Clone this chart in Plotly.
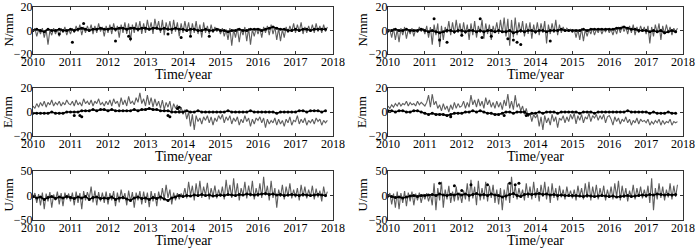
import numpy as np
import plotly.graph_objects as go

# sampling grids (decimal years)
t_gray = np.round(2010.0 + 0.05 * np.arange(158), 2)
t_black = np.round(2010.0 + 0.1 * np.arange(79), 2)

# ---------------- Left column ----------------
left_N_gray = [
    -1, 2, -5, 1, -3, 2, -6, 1, -12, 0, -4, 2, -3, 1, -5, 2, -2, 3, -4, 1,
    -3, 2, -2, 4, -1, 5, -4, 3, -2, 4, -1, 5, -3, 4, -2, 6, -1, 3, -5, 4,
    -2, 5, -3, 6, -1, 4, -6, 5, -2, 7, -3, 6, -9, 5, -2, 7, -1, 8, -3, 6,
    -2, 9, 0, 7, -3, 10, 1, 8, -2, 9, -4, 7, 0, 8, -3, 9, -1, 7, -5, 6,
    -2, 8, -1, 7, -4, 6, -2, 8, -3, 5, -6, 7, -2, 4, -3, 5, -2, 3, -1, 2,
    -3, 2, -5, 1, -8, 2, -13, 1, -6, 2, -10, 1, -4, 3, -9, 2, -12, 1, -5, 2,
    -3, 2, -6, 3, -2, 4, -4, 5, -3, 3, -8, 2, -9, 1, -6, 3, -2, 4, -1, 6,
    -2, 5, -1, 7, -3, 3, -2, 4, -1, 5, -2, 6, -1, 4, -2, 5, -1, 3]
left_N_black = [
    0, 1, 0, -1, 1, 0, 0, 1, 0, 0,
    1, 0, 1, 2, 1, 0, 1, 1, 2, 1,
    1, 2, 1, 2, 2, 1, 2, 2, 1, 2,
    2, 1, 2, 2, 1, 2, 1, 1, 2, 1,
    1, 0, 1, 1, 0, 0, 1, 0, 0, 1,
    0, 0, -1, 0, 0, 1, 0, 0, 1, 1,
    1, 0, 1, 2, 3, 2, 1, 1, 0, 0,
    1, 0, 1, 1, 0, 1, 1, 1, 1]
left_N_out_t = [2010.7, 2011.05, 2011.35, 2012.2, 2012.55, 2012.6, 2013.6, 2013.95, 2014.2, 2014.7]
left_N_out_v = [-3, -10, 6, -9, -5, -7, -3, -6, -5, -5]

left_E_gray = [
    5, 3, 7, 4, 8, 5, 9, 4, 8, 6, 10, 5, 8, 6, 9, 5, 8, 6, 10, 7,
    6, 9, 5, 10, 6, 8, 5, 11, 7, 9, 6, 10, 5, 9, 7, 11, 6, 8, 5, 9,
    6, 10, 5, 11, 7, 9, 4, 12, 6, 10, 5, 13, 7, 9, 6, 12, 8, 16, 7, 11,
    5, 14, 6, 12, 4, 11, 5, 9, 3, 10, 2, 8, 4, 9, 0, 7, 3, 6, -1, 4,
    -2, 2, -6, 0, -12, -2, -15, -3, -8, -5, -10, -4, -7, -3, -9, -4, -11, -5, -8, -3,
    -6, -2, -9, -4, -7, -3, -10, -5, -8, -4, -11, -6, -9, -3, -8, -5, -12, -6, -10, -5,
    -7, -4, -9, -5, -13, -6, -10, -7, -9, -5, -11, -6, -10, -7, -12, -6, -9, -4, -11, -7,
    -8, -3, -10, -6, -9, -5, -11, -7, -9, -6, -10, -5, -8, -6, -11, -7, -9, -7]
left_E_black = [
    -1, -1, -1, -1, -1, 0, -1, -1, -1, 0,
    0, 0, 0, 1, 1, 1, 2, 1, 2, 2,
    1, 2, 1, 1, 1, 1, 1, 2, 1, 2,
    2, 3, 2, 2, 1, 1, 1, 0, 0, 0,
    0, 1, 0, 0, 1, 0, 0, 0, 0, 0,
    0, 0, 1, 0, 0, 0, 0, 0, 1, 0,
    0, 0, 0, 0, 0, -1, 0, 0, 0, 0,
    0, 1, 1, 0, 1, 1, 1, 0, 1]
left_E_out_t = [2011.1, 2011.25, 2011.3, 2013.6, 2013.65, 2013.85, 2013.9]
left_E_out_v = [-3, -3, -4, -3, -4, 3, 4]

left_U_gray = [
    -5, 5, -15, 3, -20, 6, -28, 4, -12, 7, -25, 2, -10, 8, -18, 5, -22, 6, -8, 4,
    -12, 6, -20, 8, -15, 5, -28, 9, -10, 7, -6, 18, -14, 10, -20, 7, -12, 6, -15, 8,
    -18, 5, -10, 9, -22, 6, -14, 12, -8, 5, -20, 10, -12, 7, -25, 6, -10, 9, -18, 8,
    -15, 6, -24, 9, -12, 5, -22, 8, -10, 15, -8, 22, -5, 12, -18, 6, -10, 5, -8, 4,
    -3, 15, -6, 28, 0, 20, -10, 25, -3, 30, -5, 18, 0, 26, -8, 15, -2, 20, -6, 12,
    -3, 18, -8, 32, 0, 22, -5, 35, -2, 25, -10, 15, 0, 28, -6, 20, -2, 30, -8, 15,
    -3, 25, -5, 38, 0, 20, -10, 30, -5, 15, -25, 12, -3, 22, -8, 18, -2, 25, -6, 12,
    -4, 15, -10, 22, -3, 18, -6, 12, -2, 20, -8, 14, -4, 10, -12, 18, -3, 8]
left_U_black = [
    -2, -5, -3, -8, -4, -2, -6, -3, -5, -2,
    -4, -6, -3, -5, -2, -8, -4, -3, -6, -5,
    -6, -3, -8, -5, -4, -7, -10, -5, -3, -6,
    -5, -8, -4, -6, -3, -7, -10, -5, -3, 0,
    -2, 0, -1, 1, 0, 2, 0, 1, -1, 0,
    1, 0, 2, 1, 0, 2, 1, 3, 2, 1,
    2, 3, 4, 2, 3, 1, 2, 0, 1, 2,
    1, 0, 2, 1, 0, 1, 2, 1, 0]
left_U_out_t = []
left_U_out_v = []

# ---------------- Right column ----------------
right_N_gray = [
    -2, 1, -6, 2, -8, 1, -10, 2, -4, 3, -7, 1, -3, 2, -5, 1, -2, 3, -1, 2,
    -3, 4, -6, 3, -12, 5, -4, 6, -14, 4, -8, 3, -2, 8, -4, 7, -3, 9, -2, 6,
    -5, 7, -3, 5, -8, 6, -4, 8, -6, 4, -2, 9, -7, 6, -3, 5, -8, 4, -2, 7,
    -3, 9, -2, 11, -5, 10, -13, 9, -6, 11, -4, 7, -2, 8, -5, 6, -3, 7, -7, 5,
    -3, 7, -4, 6, -2, 8, -11, 5, -3, 6, -2, 9, -4, 5, -2, 3, -1, 2, 0, 1,
    -2, 1, -6, 1, -8, 2, -9, 1, -5, 1, -3, 2, -4, 1, -2, 2, -3, 1, -1, 2,
    -2, 1, -4, 2, -3, 3, -2, 4, -1, 3, -3, 4, -2, 5, -4, 3, -2, 4, -1, 3,
    -3, 4, -11, 3, -5, 5, -2, 6, -8, 4, -3, 5, -2, 3, -4, 2, -1, 2]
right_N_black = [
    0, 0, 1, 0, 0, 1, 0, 0, 0, 1,
    0, -1, 0, -1, -2, -1, 0, 0, -1, 0,
    0, -1, 0, 0, -1, 0, -1, 0, 0, -1,
    0, -1, -1, 0, -2, -1, 0, -1, 0, 0,
    -1, 0, 0, -1, 0, 0, 0, 1, 0, 0,
    0, 0, 0, 1, 0, 1, 1, 1, 1, 1,
    1, 1, 2, 2, 3, 2, 1, 1, 0, 0,
    0, -1, 0, -1, 0, -2, -1, 0, -1]
right_N_out_t = [2011.25, 2011.4, 2011.6, 2012.0, 2012.5, 2012.55, 2012.8, 2013.25, 2013.4, 2013.5, 2013.6, 2014.4]
right_N_out_v = [10, -8, -10, -4, 10, -6, -5, -7, -8, -10, -12, -9]

right_E_gray = [
    5, 3, 6, 4, 7, 5, 8, 5, 7, 6, 9, 5, 8, 6, 7, 5, 9, 6, 8, 6,
    5, 8, 14, 4, 15, 6, 9, 3, 6, 1, 7, 2, 5, 0, 6, 2, 8, 3, 7, 4,
    5, 9, 3, 8, 4, 14, 6, 10, 4, 11, 5, 9, 3, 12, 6, 10, 4, 8, 3, 9,
    4, 8, 2, 10, 5, 15, 3, 9, 2, 14, 4, 7, 1, 5, -2, 3, -4, -1, -8, -2,
    -5, -2, -12, -4, -15, -3, -9, -5, -11, -2, -8, -4, -13, -5, -7, -3, -9, -4, -8, -2,
    -6, -1, -10, -3, -7, -2, -9, -4, -6, -1, -8, -3, -5, -2, -7, -3, -6, -2, -9, -4,
    -3, -6, -11, -4, -8, -5, -10, -6, -8, -4, -9, -6, -11, -7, -9, -5, -10, -6, -8, -7,
    -9, -6, -11, -8, -10, -7, -9, -6, -11, -7, -10, -8, -9, -6, -11, -8, -9, -8]
right_E_black = [
    1, 1, 0, 1, 1, 0, 0, 1, 1, 0,
    -1, -2, -1, -2, -2, -2, -3, -2, -1, -1,
    -1, 0, 0, 1, 0, 1, 0, -1, -1, -2,
    -2, -1, 0, 0, -1, 0, 0, 0, -2, -1,
    -1, 0, -1, 0, 0, 0, -1, 0, 0, 0,
    0, 0, -1, 0, 0, 0, -1, 0, 0, 0,
    0, 0, 0, 0, 0, 1, 0, 0, 0, 0,
    0, -1, 0, -1, -1, -1, 0, -1, -1]
right_E_out_t = [2011.7, 2013.15, 2013.75]
right_E_out_v = [-4, -3, -3]

right_U_gray = [
    -5, 5, -18, 4, -25, 8, -28, 5, -15, 9, -22, 6, -12, 8, -20, 4, -10, 6, -15, 3,
    -8, 5, -12, 3, -20, 25, -30, 15, -10, 28, -25, 12, -8, 20, -15, 8, -12, 18, -10, 6,
    -15, 10, -8, 25, -12, 32, -6, 18, -20, 30, -10, 15, -8, 28, -12, 20, -5, 22, -15, 12,
    -18, 15, -30, 12, -10, 25, -15, 38, -5, 20, -8, 15, -3, 12, -10, 25, -5, 18, -8, 28,
    -5, 15, -12, 22, -3, 28, -8, 18, -15, 25, -5, 15, -10, 20, -4, 12, -8, 18, -3, 10,
    -6, 12, -10, 20, -3, 15, -8, 25, -5, 28, -10, 18, -4, 22, -8, 15, -3, 20, -10, 12,
    -5, 18, -8, 25, -3, 30, -10, 20, -5, 15, -12, 10, -4, 22, -8, 15, -3, 18, -6, 12,
    -5, 20, -15, 35, -30, 15, -8, 25, -5, 18, -10, 12, -4, 25, -8, 20, -3, 22]
right_U_black = [
    0, -2, -4, -3, -5, -3, -1, 0, -2, 0,
    0, 1, 2, 0, 3, 1, 0, 2, 1, 3,
    1, 3, 0, 2, 4, 1, 2, 0, 3, 1,
    0, -3, -1, 2, 4, 0, -2, 2, 3, 2,
    3, 4, 2, 3, 1, 2, 0, 1, 0, 0,
    0, 0, -1, -2, 0, -1, -2, -1, 0, -1,
    -2, -1, -3, -2, -1, 0, -2, -1, 0, 1,
    0, 2, 1, 3, 2, 1, 2, 1, 2]
right_U_out_t = [2011.4, 2011.8, 2012.0, 2012.25, 2012.7, 2013.3, 2013.45, 2013.55]
right_U_out_v = [25, 20, 10, 22, 22, 25, 22, 25]

year_ticks = [2010, 2011, 2012, 2013, 2014, 2015, 2016, 2017, 2018]
x_title = "Time/year"

panels = [
    # (gray, black, out_t, out_v, ylabel, yrange, yticks, col, row)
    (left_N_gray, left_N_black, left_N_out_t, left_N_out_v, "N/mm", [-20, 20], [-20, 0, 20], 0, 0),
    (left_E_gray, left_E_black, left_E_out_t, left_E_out_v, "E/mm", [-20, 20], [-20, 0, 20], 0, 1),
    (left_U_gray, left_U_black, left_U_out_t, left_U_out_v, "U/mm", [-50, 50], [-50, 0, 50], 0, 2),
    (right_N_gray, right_N_black, right_N_out_t, right_N_out_v, "N/mm", [-20, 20], [-20, 0, 20], 1, 0),
    (right_E_gray, right_E_black, right_E_out_t, right_E_out_v, "E/mm", [-20, 20], [-20, 0, 20], 1, 1),
    (right_U_gray, right_U_black, right_U_out_t, right_U_out_v, "U/mm", [-50, 50], [-50, 0, 50], 1, 2),
]

W, H = 700, 250
x_dom_px = [(33, 333), (388, 683)]
y_dom_px = [(7, 54), (88, 136), (171, 220)]
ytitle_x_px = [8, 362]

FONT = "Liberation Serif"
fig = go.Figure()
layout = {}
annotations = []
for i, (g, b, ot, ov, ylab, yr, yt, col, row) in enumerate(panels):
    n = i + 1
    xa = "x" if n == 1 else f"x{n}"
    ya = "y" if n == 1 else f"y{n}"
    fig.add_trace(go.Scatter(x=t_gray, y=g, mode="lines", xaxis=xa, yaxis=ya,
                             line=dict(color="#5e5e5e", width=1.1), showlegend=False))
    fig.add_trace(go.Scatter(x=t_black, y=b, mode="lines+markers", xaxis=xa, yaxis=ya,
                             line=dict(color="black", width=1.6),
                             marker=dict(color="black", size=3), showlegend=False))
    if ot:
        fig.add_trace(go.Scatter(x=ot, y=ov, mode="markers", xaxis=xa, yaxis=ya,
                                 marker=dict(color="black", size=3), showlegend=False))
    x0, x1 = x_dom_px[col]
    y0, y1 = y_dom_px[row]
    common = dict(showline=True, linecolor="#333", linewidth=1, mirror="ticks",
                  ticks="inside", ticklen=3, tickcolor="#333", showgrid=False,
                  zeroline=False, automargin=False, ticklabelstandoff=-3,
                  tickfont=dict(family=FONT, size=12, color="black"))
    layout["xaxis" if n == 1 else f"xaxis{n}"] = dict(
        domain=[x0 / W, x1 / W], anchor=ya, range=[2010, 2018],
        tickvals=year_ticks, ticktext=[str(v) for v in year_ticks], **common)
    layout["yaxis" if n == 1 else f"yaxis{n}"] = dict(
        domain=[1 - y1 / H, 1 - y0 / H], anchor=xa, range=yr, tickvals=yt, **common)
    annotations.append(dict(text=x_title, xref="paper", yref="paper",
                            x=(x0 + x1) / 2 / W, y=1 - (y1 + 20) / H,
                            xanchor="center", yanchor="middle", showarrow=False,
                            font=dict(family=FONT, size=14, color="black")))
    annotations.append(dict(text=ylab, xref="paper", yref="paper",
                            x=ytitle_x_px[col] / W, y=1 - (y0 + y1) / 2 / H,
                            xanchor="center", yanchor="middle", showarrow=False,
                            textangle=-90,
                            font=dict(family=FONT, size=13, color="black")))

fig.update_layout(template="none", width=W, height=H, margin=dict(l=0, r=0, t=0, b=0),
                  font=dict(family=FONT, color="black"), annotations=annotations,
                  paper_bgcolor="white", plot_bgcolor="white", **layout)
fig.write_html("out.html", config={"displayModeBar": False},
               post_script="document.body.style.margin='0';")
